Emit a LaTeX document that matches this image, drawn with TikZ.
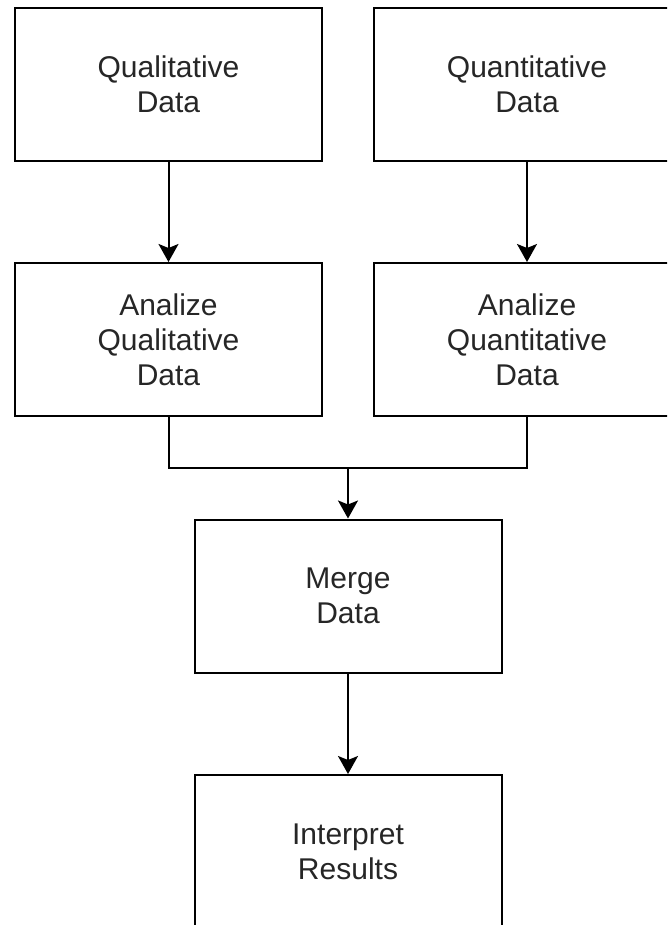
\documentclass[tikz,border=0pt]{standalone}
\usepackage{fontspec}
\setmainfont{Liberation Sans}
\usetikzlibrary{arrows.meta}
\begin{document}
\begin{tikzpicture}[x=1pt,y=-1pt,
  box/.style={draw=black,line width=2pt,fill=white,minimum width=307pt,minimum height=153pt,inner sep=0pt,align=center,font=\fontsize{30}{35}\selectfont,text=black!85},
  conn/.style={line width=2pt,draw=black},
  arr/.style={conn,-{Stealth[length=18pt,width=20pt,inset=4pt]}}]
\clip (0,0) rectangle (667,925);
\useasboundingbox (0,0) rectangle (667,925);
\node[box] (q1) at (168.5,84.5) {Qualitative\\Data};
\node[box] (q2) at (527,84.5) {Quantitative\\Data};
\node[box] (a1) at (168.5,339.5) {Analize\\Qualitative\\Data};
\node[box] (a2) at (527,339.5) {Analize\\Quantitative\\Data};
\node[box] (m) at (348,596) {Merge\\Data};
\node[box] (r) at (348,851.5) {Interpret\\Results};
\coordinate (j) at (348,468);
\draw[arr] (q1) -- (a1);
\draw[arr] (q2) -- (a2);
\draw[conn] (a1.south) |- (j);
\draw[conn] (a2.south) |- (j);
\draw[arr] (j) -- (m);
\draw[arr] (m) -- (r);
\end{tikzpicture}
\end{document}
